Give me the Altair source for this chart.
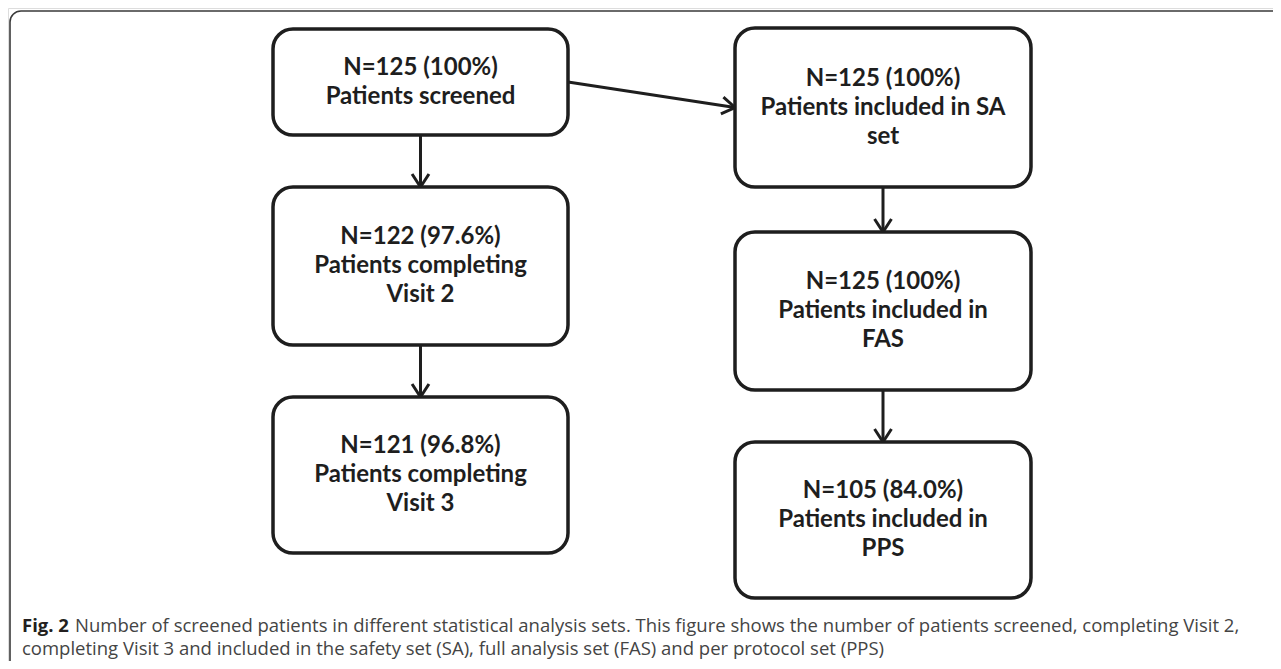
import math
import altair as alt
import pandas as pd

# ---------------- data ----------------
node_ids = ["screened", "visit2", "visit3", "sa", "fas", "pps"]
counts = [125, 122, 121, 125, 125, 105]
percents = ["100%", "97.6%", "96.8%", "100%", "100%", "84.0%"]
descriptions = [
    "Patients screened",
    "Patients completing\nVisit 2",
    "Patients completing\nVisit 3",
    "Patients included in SA\nset",
    "Patients included in\nFAS",
    "Patients included in\nPPS",
]
edge_from = ["screened", "visit2", "screened", "sa", "fas"]
edge_to = ["visit2", "visit3", "sa", "fas", "pps"]
caption_bold = "Fig. 2"
caption_line1 = ("Number of screened patients in different statistical analysis sets. "
                 "This figure shows the number of patients screened, completing Visit 2,")
caption_line2 = ("completing Visit 3 and included in the safety set (SA), full analysis set (FAS) "
                 "and per protocol set (PPS)")

# ---------------- layout (page pixels) ----------------
W, H = 1265, 653
X0, Y0 = 8, 8
box_x0 = [273, 273, 273, 735, 735, 735]
box_x1 = [568, 568, 568, 1031, 1031, 1031]
box_y0 = [29, 187, 397, 28, 232, 442]
box_y1 = [135, 345, 553, 187, 390, 598]
LH = 29
frame = dict(x=10, y=11, x2=1300, y2=720)
cap_x = 22
cap_x_cont = 75
cap_y = [632, 655]

xs = alt.Scale(domain=[X0, X0 + W], nice=False, zero=False)
ys = alt.Scale(domain=[Y0, Y0 + H], nice=False, zero=False, reverse=True)


def X(f="x"):
    return alt.X(f"{f}:Q", scale=xs, axis=None)


def Y(f="y"):
    return alt.Y(f"{f}:Q", scale=ys, axis=None)


labels = [f"N={c} ({p})\n{d}" for c, p, d in zip(counts, percents, descriptions)]
cxs = [(a + b) / 2 for a, b in zip(box_x0, box_x1)]
nodes = pd.DataFrame({
    "id": node_ids,
    "x": box_x0, "x2": box_x1, "y": box_y0, "y2": box_y1,
    "cx": cxs,
    "ty": [(a + b) / 2 - (lab.count("\n")) * LH / 2
           for a, b, lab in zip(box_y0, box_y1, labels)],
    "label": labels,
})
idx = {n: i for i, n in enumerate(node_ids)}

rows = []
for s, t in zip(edge_from, edge_to):
    i, j = idx[s], idx[t]
    if box_x0[i] == box_x0[j]:
        x = cxs[j]
        rows.append(dict(x=x, y=box_y1[i], x2=x, y2=box_y0[j], angle=0))
    else:
        ya = (box_y0[i] + box_y1[i]) / 2
        yb = (box_y0[j] + box_y1[j]) / 2
        ang = math.degrees(math.atan2(yb - ya, box_x0[j] - box_x1[i]))
        rows.append(dict(x=box_x1[i], y=ya, x2=box_x0[j], y2=yb, angle=270 + ang))
edges = pd.DataFrame(rows)

frame_df = pd.DataFrame([frame])

frame_layer = alt.Chart(frame_df).mark_rect(
    fill="white", stroke="#3a3a3a", strokeWidth=1.6, cornerRadius=11, clip=True
).encode(x=X(), x2="x2:Q", y=Y(), y2="y2:Q")

box_layer = alt.Chart(nodes).mark_rect(
    fill="white", stroke="#1e1e1e", strokeWidth=3.5, cornerRadius=20
).encode(x=X(), x2="x2:Q", y=Y(), y2="y2:Q")

text_layer = alt.Chart(nodes).mark_text(
    font="Lato", fontWeight="bold", fontSize=24, lineHeight=LH,
    lineBreak="\n", align="center", baseline="middle", color="#1e1e1e"
).encode(x=X("cx"), y=Y("ty"), text="label:N")

line_layer = alt.Chart(edges).mark_rule(
    stroke="#1e1e1e", strokeWidth=3
).encode(x=X(), x2="x2:Q", y=Y(), y2="y2:Q")

head_layer = alt.Chart(edges).mark_point(
    shape="M-0.65,-1L0,0L0.65,-1", size=676, filled=False,
    stroke="#1e1e1e", strokeWidth=3, opacity=1
).encode(x=X("x2"), y=Y("y2"), angle=alt.Angle("angle:Q", scale=None))

cap = pd.DataFrame({
    "x": [cap_x, cap_x_cont, cap_x],
    "y": [cap_y[0], cap_y[0], cap_y[1]],
    "t": [caption_bold, caption_line1, caption_line2],
    "w": ["bold", "normal", "normal"],
})
cap_bold_layer = alt.Chart(cap[cap.w == "bold"]).mark_text(
    font="Open Sans", fontWeight="bold", fontSize=18.5, align="left",
    baseline="alphabetic", color="#231f20"
).encode(x=X(), y=Y(), text="t:N")
cap_layer = alt.Chart(cap[cap.w == "normal"]).mark_text(
    font="Open Sans", fontSize=18.5, align="left",
    baseline="alphabetic", color="#444444"
).encode(x=X(), y=Y(), text="t:N")

chart = alt.layer(
    frame_layer, line_layer, head_layer, box_layer, text_layer, cap_bold_layer, cap_layer
).properties(
    width=W, height=H, padding=0, autosize=alt.AutoSizeParams(type="none")
).configure_view(stroke=None).configure(background="white")

chart.save("out.html", embed_options={"renderer": "svg", "actions": False})
